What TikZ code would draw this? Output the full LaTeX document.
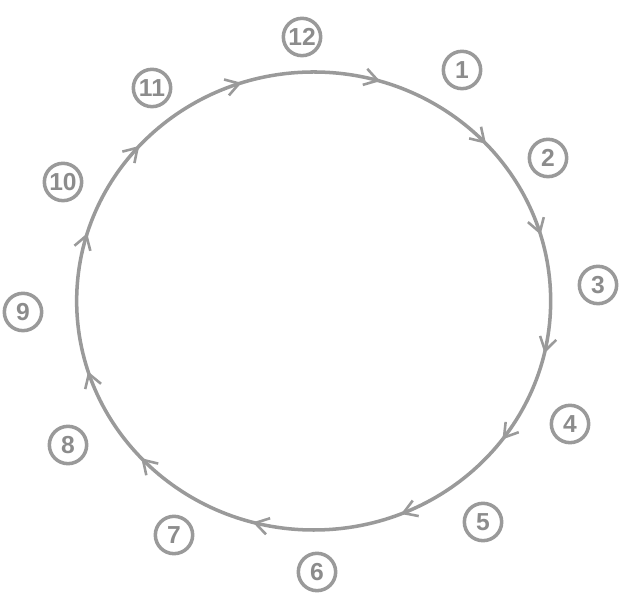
\documentclass[tikz,border=0pt]{standalone}
\usepackage{xcolor}
\usepackage{fontspec}
\setmainfont{Liberation Sans}
\usepackage{tikz}
\usetikzlibrary{arrows.meta,decorations.markings}
\definecolor{CKGray}{HTML}{9A9A9A}
\definecolor{CKText}{HTML}{8C8C8C}
\tikzset{
  hour/.style={draw=CKGray,line width=3pt,circle,minimum size=1.12cm,inner sep=0pt,
    text=CKText,font=\fontsize{21}{21}\selectfont\bfseries},
  tip/.style={CKGray,line width=2.2pt}
}
\begin{document}
\begin{tikzpicture}[x=1cm,y=1cm]
\path[use as bounding box] (0,0) rectangle (18.63,17.91);
\coordinate (c) at (9.41,8.88);
\draw[CKGray,line width=3pt,postaction={decorate},
  decoration={markings,
    mark=at position 0.046 with {\arrow[tip]{Straight Barb[length=4mm,width=5mm]}},
    mark=at position 0.131 with {\arrow[tip]{Straight Barb[length=4mm,width=5mm]}},
    mark=at position 0.204 with {\arrow[tip]{Straight Barb[length=4mm,width=5mm]}},
    mark=at position 0.286 with {\arrow[tip]{Straight Barb[length=4mm,width=5mm]}},
    mark=at position 0.352 with {\arrow[tip]{Straight Barb[length=4mm,width=5mm]}},
    mark=at position 0.439 with {\arrow[tip]{Straight Barb[length=4mm,width=5mm]}},
    mark=at position 0.542 with {\arrow[tip]{Straight Barb[length=4mm,width=5mm]}},
    mark=at position 0.631 with {\arrow[tip]{Straight Barb[length=4mm,width=5mm]}},
    mark=at position 0.701 with {\arrow[tip]{Straight Barb[length=4mm,width=5mm]}},
    mark=at position 0.797 with {\arrow[tip]{Straight Barb[length=4mm,width=5mm]}},
    mark=at position 0.867 with {\arrow[tip]{Straight Barb[length=4mm,width=5mm]}},
    mark=at position 0.950 with {\arrow[tip]{Straight Barb[length=4mm,width=5mm]}}}]
  (9.41,15.75) arc[start angle=90,end angle=-270,x radius=7.11,y radius=6.87];
% hour labels
\node[hour] (h12) at (9.06,16.80) {12};
\node[hour] (h1) at (13.86,15.81) {1};
\node[hour] (h2) at (16.44,13.17) {2};
\node[hour] (h3) at (17.94,9.36) {3};
\node[hour] (h4) at (17.10,5.19) {4};
\node[hour] (h5) at (14.49,2.25) {5};
\node[hour] (h6) at (9.51,0.75) {6};
\node[hour] (h7) at (5.22,1.86) {7};
\node[hour] (h8) at (2.04,4.56) {8};
\node[hour] (h9) at (0.69,8.55) {9};
\node[hour] (h10) at (1.89,12.45) {10};
\node[hour] (h11) at (4.56,15.27) {11};
\end{tikzpicture}
\end{document}
